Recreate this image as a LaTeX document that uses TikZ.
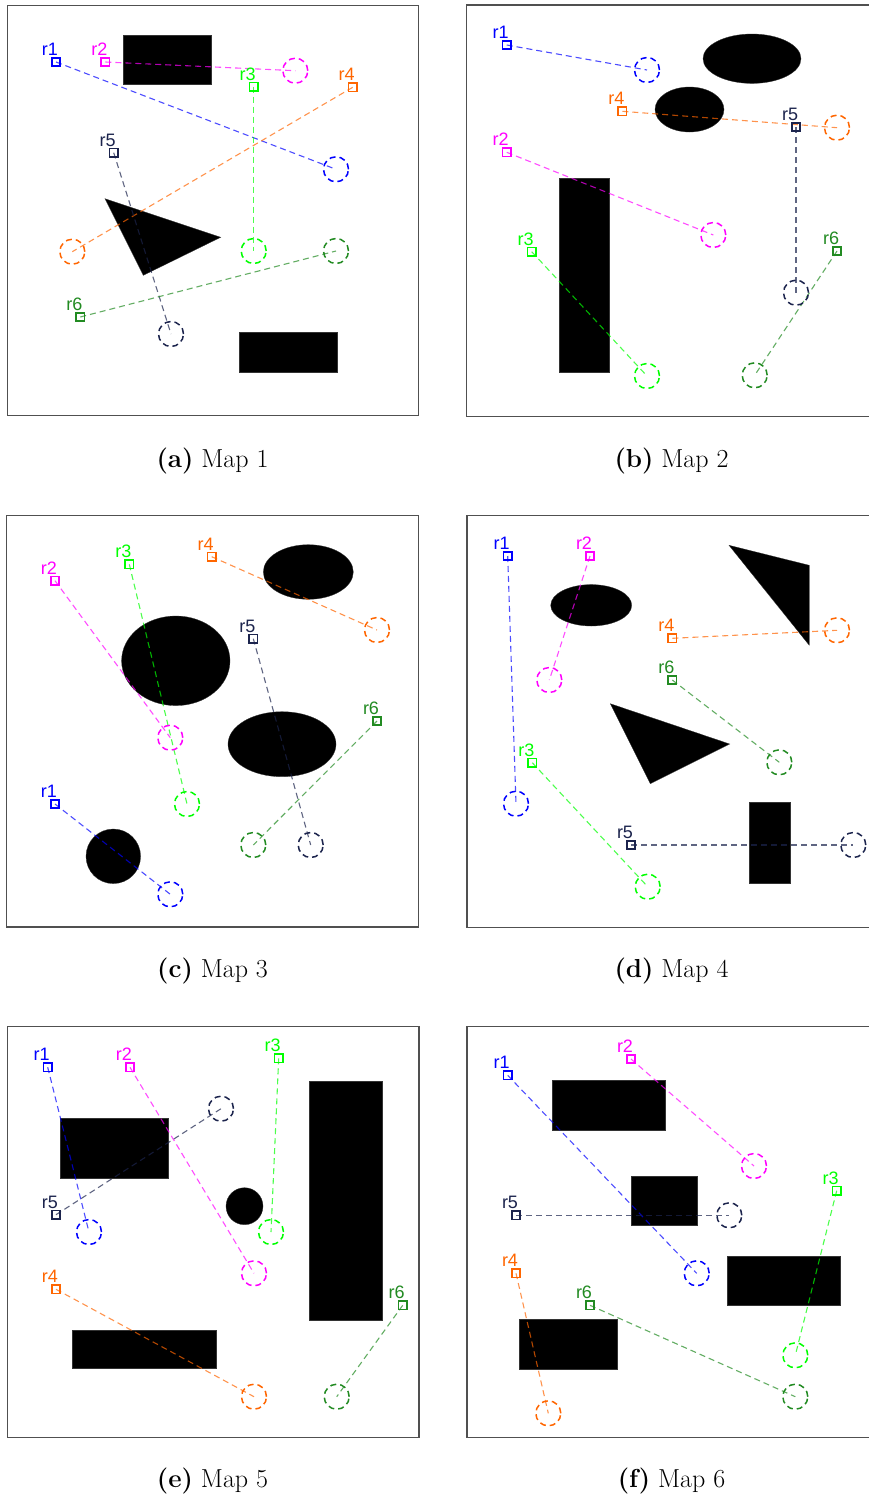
\documentclass[tikz,border=0pt]{standalone}
\usepackage{fontspec}
\newfontfamily\lblfont{Liberation Sans}
\definecolor{c1}{RGB}{0,0,255}
\definecolor{c2}{RGB}{255,0,255}
\definecolor{c3}{RGB}{0,255,0}
\definecolor{c4}{RGB}{255,102,0}
\definecolor{c5}{RGB}{28,36,77}
\definecolor{c6}{RGB}{34,139,34}
\definecolor{framec}{RGB}{80,80,80}
\pgfdeclarelayer{obs}
\pgfdeclarelayer{tr}
\pgfsetlayers{obs,tr,main}
\tikzset{
  frame/.style={draw=framec,line width=1.2pt},
  obst/.style={fill=black,draw=black!80,line width=0.3pt},
  startsq/.style={rectangle,minimum size=8.5pt,inner sep=0pt,line width=1.6pt},
  goalc/.style={circle,minimum size=25pt,inner sep=0pt,line width=1.5pt,dash pattern=on 6pt off 4pt},
  trail/.style={line width=1.1pt,draw opacity=0.7,dash pattern=on 6pt off 4pt},
  lbl/.style={font=\lblfont\fontsize{18}{20}\selectfont,inner sep=0pt,anchor=base},
  capt/.style={font=\fontsize{26}{30}\selectfont,inner sep=0pt,anchor=base}
}
\newcommand\rb[5]{%
  \node[startsq,draw=#2] (#1s) at (#4) {};
  \node[goalc,draw=#2] (#1g) at (#5) {};
  \begin{pgfonlayer}{tr}
  \draw[trail,draw=#2] (#1s.center) -- (#1g.center);
  \end{pgfonlayer}
  \node[lbl,text=#2] (#1l) at ([shift={(-6,-6.5)}]#1s.center) {#3};
}
\begin{document}
\begin{tikzpicture}[x=1pt,y=-1pt]
\useasboundingbox (0,0) rectangle (869,1497);
\clip (0,0) rectangle (869,1497);
\begin{pgfonlayer}{obs}
\fill[white] (0,0) rectangle (869,1497);
\end{pgfonlayer}

% ---------- frames ----------
\draw[frame] (7.3,5.3) rectangle (418.3,415.7);
\draw[frame] (466.3,5) rectangle (877.3,416.3);
\draw[frame] (6.7,515.3) rectangle (418.3,927);
\draw[frame] (467,515.7) rectangle (878,927.3);
\draw[frame] (7.3,1026.3) rectangle (419,1437.3);
\draw[frame] (467,1026.3) rectangle (878,1437.7);

% ---------- captions ----------
\node[capt] (capa) at (212.5,467.5) {\textbf{(a)} Map 1};
\node[capt] (capb) at (671.5,467.5) {\textbf{(b)} Map 2};
\node[capt] (capc) at (212.5,977.5) {\textbf{(c)} Map 3};
\node[capt] (capd) at (671.5,977.5) {\textbf{(d)} Map 4};
\node[capt] (cape) at (212.5,1487.5) {\textbf{(e)} Map 5};
\node[capt] (capf) at (671.5,1487.5) {\textbf{(f)} Map 6};

% ---------- obstacles ----------
\begin{pgfonlayer}{obs}
% Map 1
\path[obst] (123.3,34.7) rectangle (211,84);
\path[obst] (238.7,331.7) rectangle (336.7,371.7);
\path[obst] (105,198.7) -- (220.7,237.3) -- (143.3,275.3) -- cycle;
% Map 2
\path[obst] (752,58.7) ellipse [x radius=49,y radius=24.7];
\path[obst] (689.5,109.5) ellipse [x radius=34.5,y radius=22.5];
\path[obst] (558.7,178.3) rectangle (609,372.3);
% Map 3
\path[obst] (308.3,572) ellipse [x radius=45,y radius=27.3];
\path[obst] (175.8,660.8) ellipse [x radius=54.2,y radius=44.8];
\path[obst] (282,744.2) ellipse [x radius=54,y radius=32.5];
\path[obst] (113.3,856.3) circle [radius=27.3];
% Map 4
\path[obst] (591.2,605.3) ellipse [x radius=40.5,y radius=20.7];
\path[obst] (729,545.3) -- (809.3,565.3) -- (809.3,645.3) -- cycle;
\path[obst] (610.3,703.7) -- (729.7,744) -- (650.3,783.7) -- cycle;
\path[obst] (748.7,802.3) rectangle (789.7,883.3);
% Map 5
\path[obst] (60,1117.7) rectangle (167.7,1178.3);
\path[obst] (309.3,1081.3) rectangle (381.7,1320);
\path[obst] (71.7,1330.3) rectangle (215.7,1367.7);
\path[obst] (244.5,1206.2) circle [radius=18.5];
% Map 6
\path[obst] (551.7,1080) rectangle (665,1129.7);
\path[obst] (631.3,1176) rectangle (697,1225.3);
\path[obst] (726.7,1256) rectangle (840,1305.3);
\path[obst] (519.3,1319.3) rectangle (617.3,1369.3);
\end{pgfonlayer}

% ---------- robots ----------
% Map 1
\rb{a1}{c1}{r1}{56,62}{336,169.3}
\rb{a2}{c2}{r2}{105.3,62}{295.3,70.7}
\rb{a3}{c3}{r3}{253.7,86.7}{253.7,251}
\rb{a4}{c4}{r4}{352.7,87.3}{72.3,251.7}
\rb{a5}{c5}{r5}{113.7,152.7}{171,334}
\rb{a6}{c6}{r6}{80.3,317}{336,251}
% Map 2
\rb{b1}{c1}{r1}{506.7,45}{647,70}
\rb{b2}{c2}{r2}{506.7,152.3}{713.3,235}
\rb{b3}{c3}{r3}{531.7,251.7}{647,376}
\rb{b4}{c4}{r4}{622.3,111.3}{837,127.7}
\rb{b5}{c5}{r5}{796,127}{796,292.7}
\rb{b6}{c6}{r6}{837,251}{754.7,375.3}
% Map 3
\rb{c1}{c1}{r1}{55,804}{170.3,894.3}
\rb{c2}{c2}{r2}{55,580.7}{170.3,737.7}
\rb{c3}{c3}{r3}{129.3,564.3}{187,804}
\rb{c4}{c4}{r4}{211.7,556.7}{377,630}
\rb{c5}{c5}{r5}{253.3,638.7}{310.7,845}
\rb{c6}{c6}{r6}{377,721}{253.3,845}
% Map 4
\rb{d1}{c1}{r1}{507.7,556}{516,803.7}
\rb{d2}{c2}{r2}{590,556}{549.3,680}
\rb{d3}{c3}{r3}{532.3,762.7}{647.7,886.7}
\rb{d4}{c4}{r4}{672.3,638.3}{837,630.3}
\rb{d5}{c5}{r5}{631,845}{853.3,845}
\rb{d6}{c6}{r6}{672.3,680}{779.3,762.3}
% Map 5
\rb{e1}{c1}{r1}{47.7,1067.3}{89,1232}
\rb{e2}{c2}{r2}{130,1067.3}{254,1273.3}
\rb{e3}{c3}{r3}{278.7,1058.3}{271,1232}
\rb{e4}{c4}{r4}{56,1289.3}{254,1396.7}
\rb{e5}{c5}{r5}{56,1214.7}{221,1108.7}
\rb{e6}{c6}{r6}{402.7,1305.3}{336.7,1396.7}
% Map 6
\rb{f1}{c1}{r1}{507.7,1075.3}{696.7,1273.3}
\rb{f2}{c2}{r2}{631,1059}{754,1166}
\rb{f3}{c3}{r3}{836.7,1190.7}{795.3,1355.3}
\rb{f4}{c4}{r4}{516,1273.3}{548.3,1413.3}
\rb{f5}{c5}{r5}{516,1215.3}{729.3,1215.3}
\rb{f6}{c6}{r6}{590,1305.3}{795.3,1396.7}
\end{tikzpicture}
\end{document}
